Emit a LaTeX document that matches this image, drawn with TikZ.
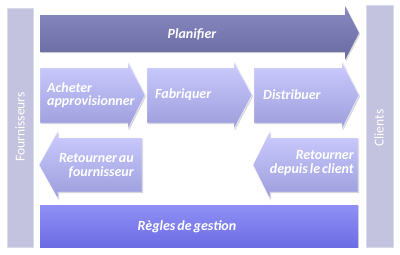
\documentclass[tikz,border=0pt]{standalone}
\usepackage{fontspec}
\setmainfont{Carlito}
\usetikzlibrary{shadows}
\newcommand{\tightsp}{\spaceskip=0.14em plus 0.05em minus 0.02em\relax}
\definecolor{sidebar}{HTML}{C3C3DF}
\definecolor{sideedge}{HTML}{D9D9EC}
\definecolor{plantop}{HTML}{8A8AC2}
\definecolor{planbot}{HTML}{6A6AA2}
\definecolor{lighttop}{HTML}{CCCCFF}
\definecolor{lightbot}{HTML}{9C9CDC}
\definecolor{regtop}{HTML}{9090F6}
\definecolor{regbot}{HTML}{6C6CE4}
\tikzset{
  shp/.style={drop shadow={opacity=0.3,shadow xshift=1.2pt,shadow yshift=-1.2pt}},
  sidebox/.style={shp,fill=sidebar,draw=sideedge,line width=0.8pt},
  planshape/.style={shp,top color=plantop,bottom color=planbot,draw=none},
  lightshape/.style={shp,top color=lighttop,bottom color=lightbot,draw=white!80!lighttop,line width=0.4pt},
  regshape/.style={shp,top color=regtop,bottom color=regbot,draw=none},
  lbl/.style={text=white,inner sep=0pt,font=\fontsize{14}{13.5}\selectfont\bfseries\itshape\tightsp},
  sidelbl/.style={text=white,font=\fontsize{13.5}{12}\selectfont,rotate=90,inner sep=0pt}
}
\begin{document}
\begin{tikzpicture}[x=1pt,y=-1pt]
\useasboundingbox[fill=white] (0,0) rectangle (400,255);
% side bars
\draw[sidebox] (7,8) rectangle (33,247);
\draw[sidebox] (366,5) rectangle (393,247);
\node[sidelbl] (four) at (20,127) {Fournisseurs};
\node[sidelbl] (cli) at (379,128) {Clients};
% Planifier
\draw[planshape] (40,15) -- (345,15) -- (345,6) -- (359,33) -- (345,60) -- (345,52) -- (40,52) -- cycle;
\node[lbl] (plan) at (192,34) {Planifier};
% row 2
\draw[lightshape] (40,68) -- (128,68) -- (128,62) -- (145,95) -- (128,129) -- (128,123) -- (40,123) -- cycle;
\draw[lightshape] (147,68) -- (234,68) -- (234,62) -- (252,95) -- (234,129) -- (234,123) -- (147,123) -- cycle;
\draw[lightshape] (254,68) -- (342,68) -- (342,62) -- (359,95) -- (342,129) -- (342,123) -- (254,123) -- cycle;
\node[lbl,anchor=west,align=left] (ach) at (47,95) {Acheter\\approvisionner};
\node[lbl,anchor=west] (fab) at (155,95) {Fabriquer};
\node[lbl,anchor=west] (dis) at (263,95) {Distribuer};
% row 3
\draw[lightshape] (142,138) -- (58,138) -- (58,131) -- (39,165) -- (58,199) -- (58,192) -- (142,192) -- cycle;
\draw[lightshape] (358,138) -- (270,138) -- (270,131) -- (253,165) -- (270,199) -- (270,192) -- (358,192) -- cycle;
\node[lbl,anchor=east,align=right] (retf) at (134,166) {Retourner au\\fournisseur};
\node[lbl,anchor=east,align=right] (retc) at (354,163) {Retourner\\depuis le client};
% Regles
\draw[regshape] (40,205) rectangle (358,247);
\node[lbl] (reg) at (187,227) {Règles de gestion};
\end{tikzpicture}
\end{document}
